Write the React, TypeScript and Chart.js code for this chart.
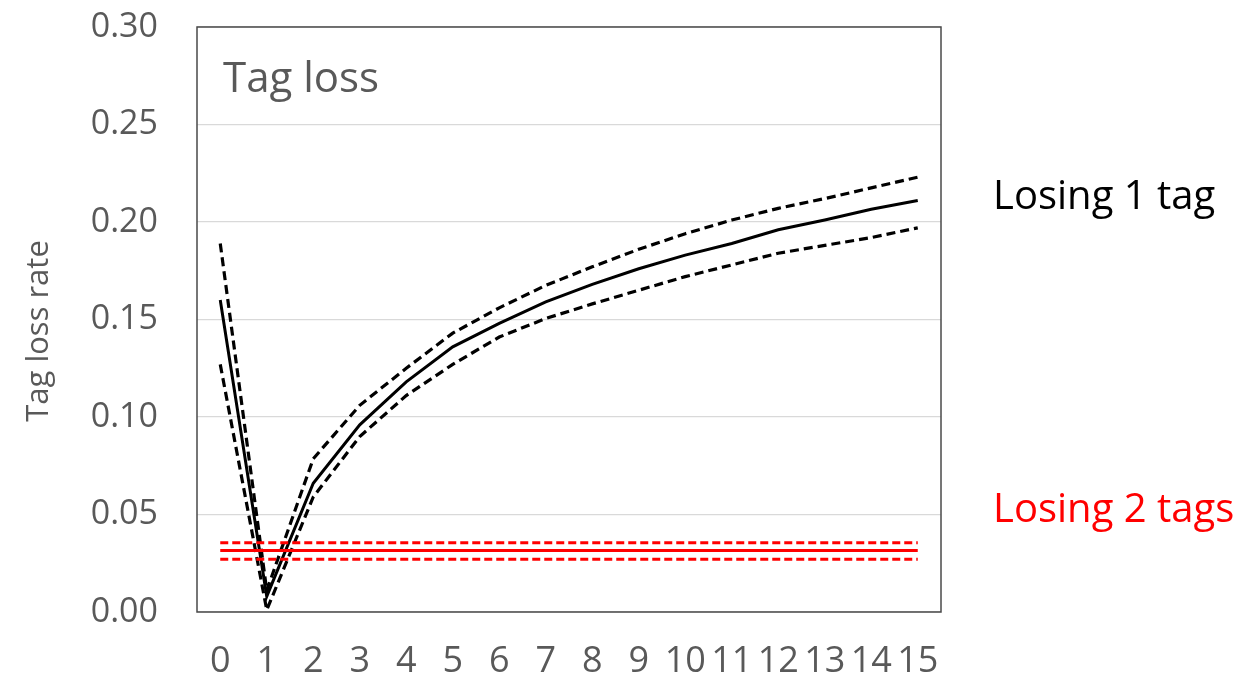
import React, { useEffect, useRef } from "react";
import { Chart, registerables } from "chart.js";

Chart.register(...registerables);

const categories = ["0", "1", "2", "3", "4", "5", "6", "7", "8", "9", "10", "11", "12", "13", "14", "15"];
const oneTagMean = [0.160, 0.008, 0.066, 0.096, 0.118, 0.136, 0.148, 0.159, 0.168, 0.176, 0.183, 0.189, 0.196, 0.201, 0.2065, 0.211];
const oneTagUpper = [0.189, 0.011, 0.0786, 0.106, 0.125, 0.143, 0.156, 0.1675, 0.177, 0.186, 0.194, 0.201, 0.207, 0.212, 0.2175, 0.223];
const oneTagLower = [0.127, 0.001, 0.059, 0.090, 0.111, 0.127, 0.141, 0.1505, 0.158, 0.165, 0.172, 0.178, 0.184, 0.188, 0.192, 0.197];
const twoTagMean = [0.0315, 0.0315, 0.0315, 0.0315, 0.0315, 0.0315, 0.0315, 0.0315, 0.0315, 0.0315, 0.0315, 0.0315, 0.0315, 0.0315, 0.0315, 0.0315];
const twoTagUpper = [0.0355, 0.0355, 0.0355, 0.0355, 0.0355, 0.0355, 0.0355, 0.0355, 0.0355, 0.0355, 0.0355, 0.0355, 0.0355, 0.0355, 0.0355, 0.0355];
const twoTagLower = [0.027, 0.027, 0.027, 0.027, 0.027, 0.027, 0.027, 0.027, 0.027, 0.027, 0.027, 0.027, 0.027, 0.027, 0.027, 0.027];
const yTicks = [0, 0.05, 0.1, 0.15, 0.2, 0.25, 0.3];

const FONT = "'Open Sans', 'Noto Sans', sans-serif";
const GRAY = "#595959";

const overlayPlugin = {
  id: "overlay",
  afterDraw(chart: any) {
    const { ctx, chartArea } = chart;
    ctx.save();
    ctx.strokeStyle = "#4a4a4a";
    ctx.lineWidth = 1.5;
    ctx.strokeRect(chartArea.left, chartArea.top, chartArea.right - chartArea.left, chartArea.bottom - chartArea.top);

    ctx.textBaseline = "alphabetic";
    ctx.textAlign = "left";
    ctx.fillStyle = GRAY;
    ctx.font = `42px ${FONT}`;
    ctx.fillText("Tag loss", 223, 92);

    ctx.fillStyle = "#000000";
    ctx.font = `40px ${FONT}`;
    ctx.fillText("Losing 1 tag", 993, 209);
    ctx.fillStyle = "#ff0000";
    ctx.fillText("Losing 2 tags", 993, 522);

    ctx.translate(48, 331);
    ctx.rotate(-Math.PI / 2);
    ctx.textAlign = "center";
    ctx.fillStyle = GRAY;
    ctx.font = `31px ${FONT}`;
    ctx.fillText("Tag loss rate", 0, 0);
    ctx.restore();
  },
};

export default function App() {
  const ref = useRef<HTMLCanvasElement | null>(null);

  useEffect(() => {
    if (!ref.current) return;
    const line = (data: number[], color: string, width: number, dash: number[]) => ({
      data,
      borderColor: color,
      borderWidth: width,
      borderDash: dash,
      pointRadius: 0,
      tension: 0,
      fill: false,
    });
    const chart = new Chart(ref.current, {
      type: "line",
      data: {
        labels: categories,
        datasets: [
          line(twoTagUpper, "#ff0000", 3, [8, 4]),
          line(twoTagLower, "#ff0000", 3, [8, 4]),
          line(twoTagMean, "#ff0000", 3, []),
          line(oneTagUpper, "#000000", 3.2, [9, 5]),
          line(oneTagLower, "#000000", 3.2, [9, 5]),
          line(oneTagMean, "#000000", 3, []),
        ],
      },
      options: {
        responsive: false,
        animation: false,
        layout: { padding: { left: 0, right: 305, top: 27, bottom: 0 } },
        plugins: { legend: { display: false }, tooltip: { enabled: false } },
        scales: {
          x: {
            offset: true,
            grid: { display: false, drawTicks: false },
            border: { display: false },
            ticks: {
              color: GRAY,
              font: { family: FONT, size: 36 },
              padding: 28,
              maxRotation: 0,
              autoSkip: false,
            },
            afterFit: (s: any) => {
              s.height = 70;
              s.paddingLeft = 0;
              s.paddingRight = 0;
            },
          },
          y: {
            min: 0,
            max: 0.3,
            afterBuildTicks: (s: any) => {
              s.ticks = yTicks.map((v) => ({ value: v }));
            },
            grid: { color: "#d9d9d9", lineWidth: 1.3, drawTicks: false },
            border: { display: false },
            ticks: {
              color: GRAY,
              font: { family: FONT, size: 34 },
              padding: 39,
              callback: (v: any) => Number(v).toFixed(2),
            },
            afterFit: (s: any) => {
              s.width = 197;
              s.paddingTop = 0;
              s.paddingBottom = 0;
            },
          },
        },
      },
      plugins: [overlayPlugin],
    });
    return () => chart.destroy();
  }, []);

  return (
    <div style={{ position: "absolute", left: 0, top: 0, width: 1246, height: 682, background: "#fff" }}>
      <canvas ref={ref} width={1246} height={682} style={{ display: "block" }} />
    </div>
  );
}
